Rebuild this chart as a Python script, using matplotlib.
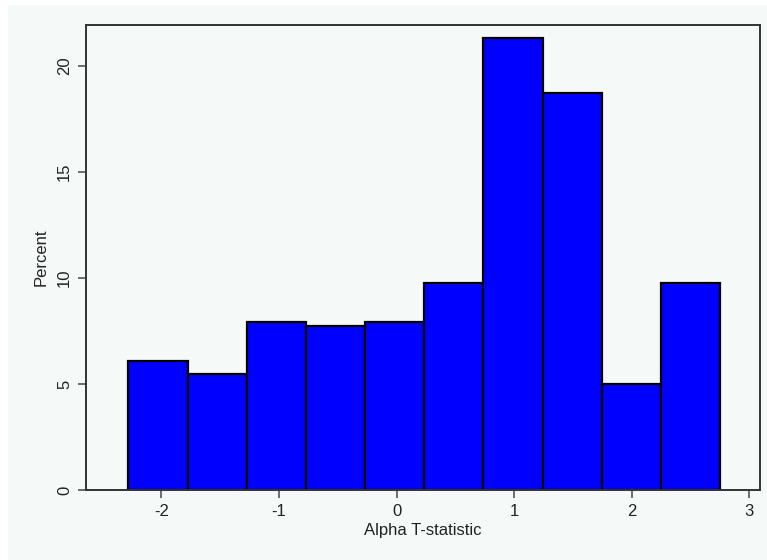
import matplotlib
matplotlib.use("Agg")
import matplotlib.pyplot as plt
from matplotlib.patches import Rectangle

# histogram bins (left edges) and percent per bin
bin_left = [-2.28, -1.777, -1.274, -0.771, -0.268, 0.235, 0.738, 1.241, 1.744, 2.247]
bin_width = 0.503
percent = [6.10, 5.49, 7.93, 7.72, 7.93, 9.76, 21.34, 18.70, 4.98, 9.76]

x_ticks = [-2, -1, 0, 1, 2, 3]
y_ticks = [0, 5, 10, 15, 20]

bg = "#f5faf8"
plt.rcParams["font.family"] = ["Liberation Sans", "DejaVu Sans"]
plt.rcParams["axes.unicode_minus"] = False

fig = plt.figure(figsize=(7.67, 5.6), dpi=100, facecolor="white")
fig.patches.append(Rectangle((8 / 767, 0), 1, 555 / 560, transform=fig.transFigure,
                             facecolor=bg, edgecolor="none", zorder=-10))

ax = fig.add_axes([86 / 767, 70 / 560, (760 - 86) / 767, (490 - 25) / 560])
ax.set_facecolor(bg)
ax.bar(bin_left, percent, width=bin_width, align="edge", color="#0000ff",
       edgecolor="black", linewidth=1.6)

ax.set_xlim(-2.64, 3.09)
ax.set_ylim(0, 21.93)
ax.set_xticks(x_ticks)
ax.set_xticklabels([str(v) for v in x_ticks])
ax.set_yticks(y_ticks)
ax.set_yticklabels([str(v) for v in y_ticks], rotation=90, va="center")
ax.tick_params(direction="out", length=6, width=1.2, color="#555555",
               labelsize=12, labelcolor="#222222", pad=4)

for s in ax.spines.values():
    s.set_color("#333333")
    s.set_linewidth(1.4)

ax.set_xlabel("Alpha T-statistic", fontsize=12, color="#222222", labelpad=3)
ax.set_ylabel("Percent", fontsize=12, color="#222222", labelpad=6)

fig.savefig("out.png", dpi=100, facecolor=fig.get_facecolor())
